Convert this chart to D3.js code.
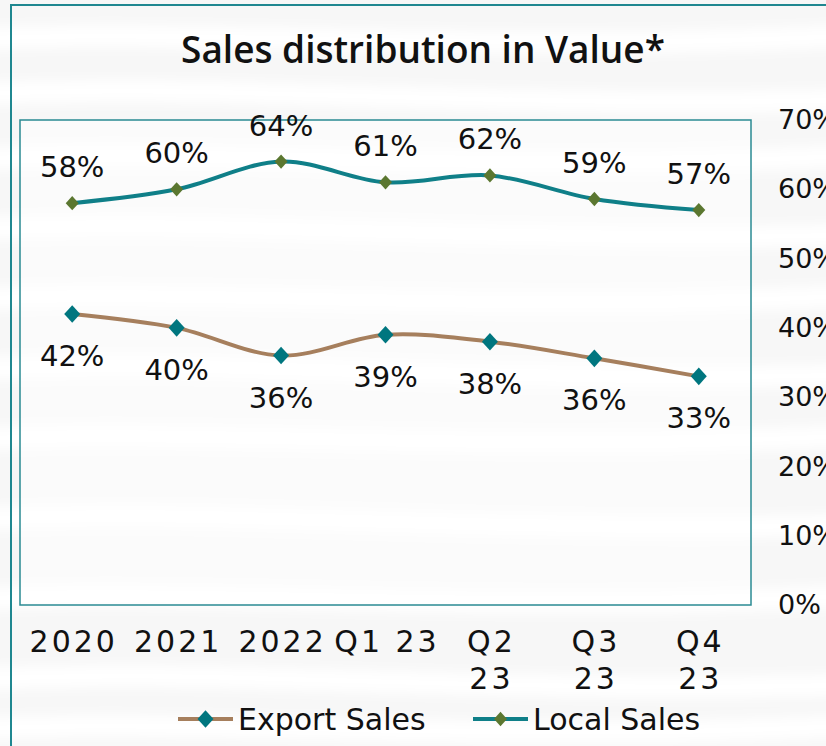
<!DOCTYPE html>
<html>
<head>
<meta charset="utf-8">
<script src="https://cdn.jsdelivr.net/npm/d3@7/dist/d3.min.js"></script>
<style>
  html, body { margin: 0; padding: 0; background: #fff; }
  svg { display: block; font-family: "DejaVu Sans", "Open Sans", sans-serif; }
</style>
</head>
<body>
<div id="chart"></div>
<script>
const categories = ['2020', '2021', '2022', 'Q1 23', 'Q2 23', 'Q3 23', 'Q4 23']
const tickLines = [['2020'], ['2021'], ['2022'], ['Q1 23'], ['Q2', '23'], ['Q3', '23'], ['Q4', '23']]
const localSales = [58, 60, 64, 61, 62, 58.6, 57]
const exportSales = [42, 40, 36, 39, 38, 35.6, 33]
const yTicks = [0, 10, 20, 30, 40, 50, 60, 70]

const width = 826, height = 746
const plot = { left: 20, top: 120, right: 751, bottom: 605 }

const svg = d3.select('#chart').append('svg')
	.attr('width', width)
	.attr('height', height)

// soft streaky background
const defs = svg.append('defs')
const blur = defs.append('filter').attr('id', 'blur')
	.attr('x', '-20%').attr('y', '-200%').attr('width', '140%').attr('height', '500%')
blur.append('feGaussianBlur').attr('stdDeviation', 6)

svg.append('rect').attr('width', width).attr('height', height).attr('fill', '#f7f7f7')
const streaks = [40, 95, 160, 230, 300, 370, 440, 520, 600, 680, 730]
svg.append('g').attr('filter', 'url(#blur)')
	.selectAll('path')
	.data(streaks)
	.enter().append('path')
		.attr('d', (d, i) => `M-40,${d} C200,${d - 14} 500,${d + 16} 880,${d - 6 + (i % 2) * 10}`)
		.attr('stroke', '#ffffff')
		.attr('stroke-width', 22)
		.attr('fill', 'none')

// outer frame
svg.append('path')
	.attr('d', `M11,${height} L11,5 L${width},5`)
	.attr('stroke', '#1f8790')
	.attr('stroke-width', 2)
	.attr('fill', 'none')

const x = d3.scaleBand()
	.domain(categories)
	.range([plot.left, plot.right])

const y = d3.scaleLinear()
	.domain([0, 70])
	.range([plot.bottom, plot.top])

// plot area
svg.append('rect')
	.attr('x', plot.left)
	.attr('y', plot.top)
	.attr('width', plot.right - plot.left)
	.attr('height', plot.bottom - plot.top)
	.attr('fill', 'rgba(255,255,255,0.55)')
	.attr('stroke', '#2a8a93')
	.attr('stroke-width', 1.5)

// Title
svg.append('text')
	.attr('x', 423)
	.attr('y', 63)
	.attr('text-anchor', 'middle')
	.attr('font-family', '"Open Sans", sans-serif')
	.attr('font-size', '37px')
	.attr('font-weight', 600)
	.attr('fill', '#111')
	.text('Sales distribution in Value*')

// right Y axis
const yAxis = svg.append('g')
	.attr('transform', `translate(778,0)`)
	.call(d3.axisRight(y).tickValues(yTicks).tickSize(0).tickFormat(d => d + '%'))
yAxis.select('.domain').remove()
yAxis.selectAll('text')
	.attr('x', 0)
	.attr('text-anchor', 'start')
	.attr('font-size', '27px')
	.attr('font-family', '"DejaVu Sans", sans-serif')
	.attr('fill', '#111')

// X axis labels
const xAxis = svg.append('g')
	.attr('transform', `translate(0,${plot.bottom})`)
	.call(d3.axisBottom(x).tickSize(0).tickFormat(''))
xAxis.select('.domain').remove()
xAxis.selectAll('.tick').each(function (d, i) {
	const t = d3.select(this).append('text')
		.attr('text-anchor', 'middle')
		.attr('font-size', '30px')
		.attr('font-family', '"DejaVu Sans", sans-serif')
		.attr('letter-spacing', '3px')
		.attr('fill', '#111')
	tickLines[i].forEach((line, j) => {
		t.append('tspan')
			.attr('x', 1.5)
			.attr('y', 47 + j * 37)
			.text(line)
	})
})

const curve = d3.curveCatmullRom.alpha(0)
const line = d3.line()
	.x((d, i) => x(categories[i]) + x.bandwidth() / 2)
	.y(d => y(d))
	.curve(curve)

const series = [
	{ name: 'Export Sales', values: exportSales, stroke: '#a67f5d', marker: '#00767f', size: 16, labelDy: 52 },
	{ name: 'Local Sales', values: localSales, stroke: '#0f7f88', marker: '#5b7730', size: 13, labelDy: -26 }
]

const diamond = (cx, cy, s) => `M${cx},${cy - s * 0.55} L${cx + s / 2},${cy} L${cx},${cy + s * 0.55} L${cx - s / 2},${cy} Z`

series.forEach(s => {
	svg.append('path')
		.datum(s.values)
		.attr('d', line)
		.attr('fill', 'none')
		.attr('stroke', s.stroke)
		.attr('stroke-width', 4)

	svg.append('g').selectAll('path')
		.data(s.values)
		.enter().append('path')
			.attr('d', (d, i) => diamond(x(categories[i]) + x.bandwidth() / 2, y(d), s.size))
			.attr('fill', s.marker)

	// Labels
	svg.append('g').selectAll('text')
		.data(s.values)
		.enter().append('text')
			.attr('x', (d, i) => x(categories[i]) + x.bandwidth() / 2)
			.attr('y', d => y(d) + s.labelDy)
			.attr('text-anchor', 'middle')
			.attr('font-size', '29px')
			.attr('fill', '#111')
			.text(d => Math.round(d) + '%')
})

// Legend
const legend = svg.append('g').attr('transform', 'translate(0,719)')
const legendItems = [{ s: series[0], x0: 178 }, { s: series[1], x0: 473 }]
legendItems.forEach(item => {
	const g = legend.append('g').attr('transform', `translate(${item.x0},0)`)
	g.append('line')
		.attr('x1', 0).attr('x2', 55)
		.attr('y1', 0).attr('y2', 0)
		.attr('stroke', item.s.stroke)
		.attr('stroke-width', 4)
	g.append('path')
		.attr('d', diamond(27.5, 0, item.s.size))
		.attr('fill', item.s.marker)
	g.append('text')
		.attr('x', 60)
		.attr('y', 11)
		.attr('font-size', '30px')
		.attr('fill', '#111')
		.text(item.s.name)
})
</script>
</body>
</html>
